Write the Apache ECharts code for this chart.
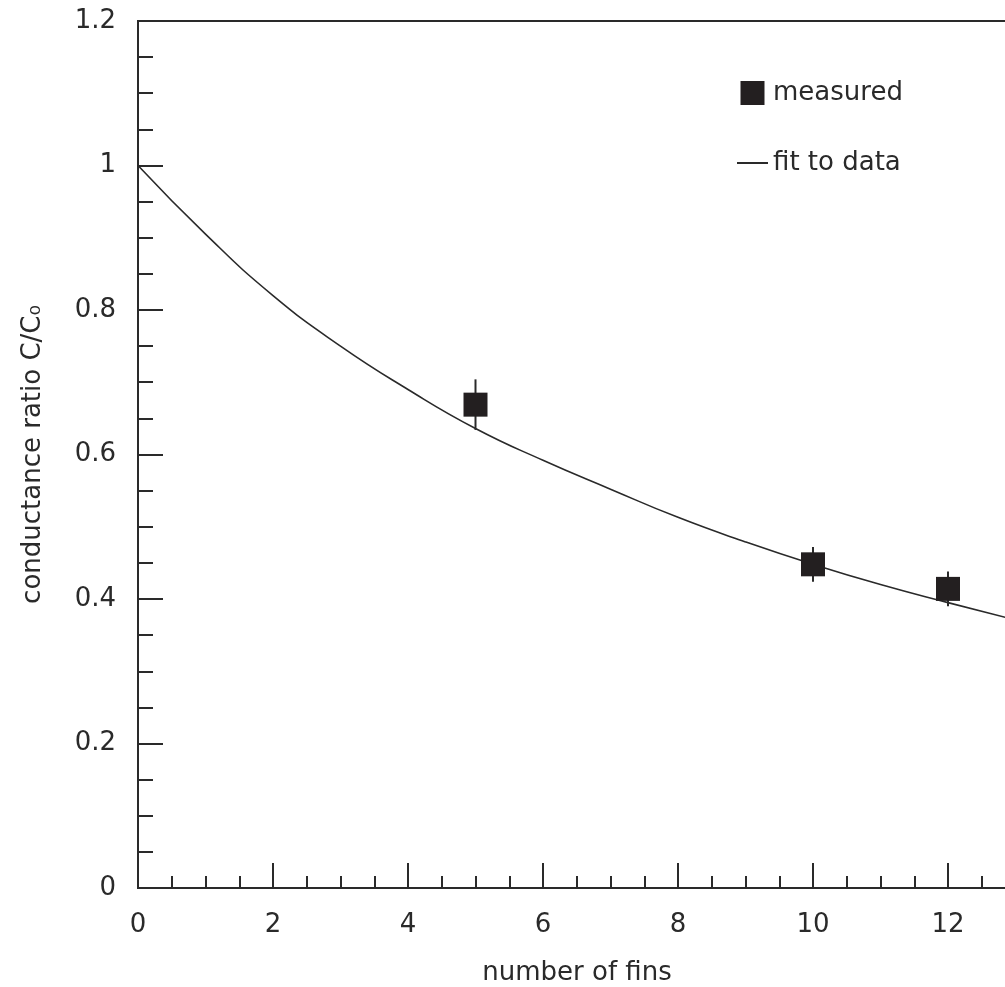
<!DOCTYPE html>
<html>
<head>
<meta charset="utf-8">
<script src="https://cdn.jsdelivr.net/npm/echarts@6/dist/echarts.min.js"></script>
<style>
html,body{margin:0;padding:0;background:#fff;}
#chart{width:1005px;height:987px;}
</style>
</head>
<body>
<div id="chart"></div>
<script>
// measured data
const fins = [5, 10, 12];
const ratioMeasured = [0.669, 0.448, 0.414];
const ratioError = [0.035, 0.024, 0.024];
// fit curve
const fitX = [0, 1, 2, 3, 4, 5, 6, 7, 8, 9, 10, 11, 12, 13];
const fitY = [1.000, 0.905, 0.820, 0.750, 0.690, 0.636, 0.592, 0.552, 0.513, 0.479, 0.448, 0.420, 0.395, 0.371];

const FONT = 'DejaVu Sans';
const INK = '#2a2a2a';

const chart = echarts.init(document.getElementById('chart'), null, {renderer: 'canvas'});

const option = {
  animation: false,
  backgroundColor: '#fff',
  grid: {
    left: 138, top: 21, width: 945, height: 867,
    outerBoundsMode: 'none', containLabel: false,
    show: true, borderColor: INK, borderWidth: 2, backgroundColor: 'transparent'
  },
  legend: {
    orient: 'vertical',
    left: 731, top: 75,
    itemWidth: 31, itemHeight: 24, itemGap: 44,
    textStyle: {fontFamily: FONT, fontSize: 26, color: INK},
    data: [
      {name: 'measured', icon: 'path://M0,0H10V10H0Z', itemStyle: {color: '#231f20', opacity: 1}},
      {name: 'fit to data', itemStyle: {color: 'rgba(0,0,0,0)', borderWidth: 0, opacity: 0}}
    ]
  },
  xAxis: {
    type: 'value', min: 0, max: 14, interval: 2,
    name: 'number of fins', nameLocation: 'middle', nameGap: 72,
    nameTextStyle: {fontFamily: FONT, fontSize: 26, color: INK, padding: [0, 67, 0, 0]},
    axisLine: {show: true, onZero: false, lineStyle: {color: INK, width: 2}},
    axisTick: {show: true, inside: true, length: 25, lineStyle: {color: INK, width: 2}},
    minorTick: {show: true, splitNumber: 4, length: 12, lineStyle: {color: INK, width: 2}},
    splitLine: {show: false},
    axisLabel: {fontFamily: FONT, fontSize: 26, color: INK, margin: 24,
      formatter: v => (v % 2 === 0 ? String(v) : '')}
  },
  yAxis: {
    type: 'value', min: 0, max: 1.2, interval: 0.2,
    name: 'conductance ratio C/C₀', nameLocation: 'middle', nameGap: 92, nameRotate: 90,
    nameTextStyle: {fontFamily: FONT, fontSize: 26, color: INK},
    axisLine: {show: true, onZero: false, lineStyle: {color: INK, width: 2}},
    axisTick: {show: true, inside: true, length: 25, lineStyle: {color: INK, width: 2}},
    minorTick: {show: true, splitNumber: 4, length: 15, lineStyle: {color: INK, width: 2}},
    splitLine: {show: false},
    axisLabel: {fontFamily: FONT, fontSize: 26, color: INK, margin: 22}
  },
  series: [
    {
      name: 'fit to data', type: 'line', smooth: true, symbol: 'none',
      data: fitX.map((x, i) => [x, fitY[i]]),
      lineStyle: {color: INK, width: 1.6},
      itemStyle: {color: INK},
      z: 2
    },
    {
      type: 'custom',
      data: fins.map((f, i) => [f, ratioMeasured[i] - ratioError[i], ratioMeasured[i] + ratioError[i]]),
      renderItem: (params, api) => {
        const p1 = api.coord([api.value(0), api.value(1)]);
        const p2 = api.coord([api.value(0), api.value(2)]);
        return {type: 'line', shape: {x1: p1[0], y1: p1[1], x2: p2[0], y2: p2[1]},
          style: {stroke: INK, lineWidth: 2}};
      },
      z: 3
    },
    {
      name: 'measured', type: 'scatter', symbol: 'rect', symbolSize: 24,
      data: fins.map((f, i) => [f, ratioMeasured[i]]),
      itemStyle: {color: '#231f20', opacity: 1},
      z: 4
    }
  ]
};
chart.setOption(option);
</script>
</body>
</html>
